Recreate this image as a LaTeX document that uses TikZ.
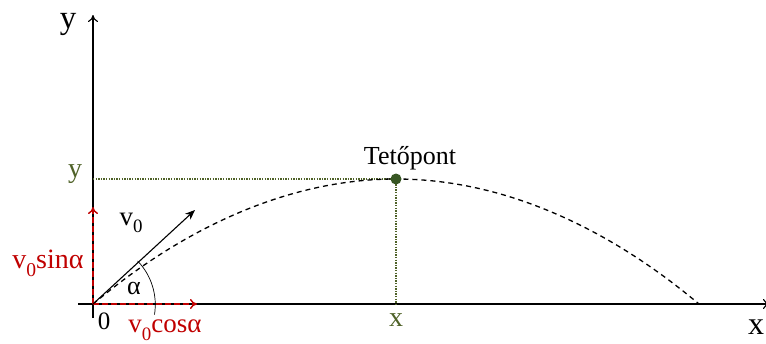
\documentclass[tikz,border=0pt]{standalone}
\usepackage{fontspec}
\setmainfont{Liberation Serif}
\usetikzlibrary{arrows.meta,calc}
\definecolor{myred}{HTML}{C00000}
\definecolor{mygreen}{HTML}{4F6228}
\definecolor{dotgreen}{HTML}{375623}
\newcommand{\subz}{\raisebox{-0.28em}{\fontsize{0.7em}{0.8em}\selectfont 0}}
\tikzset{
  axis/.style={line width=1.1pt,-{To[length=7pt,width=10pt]}},
  comp/.style={myred,line width=1.4pt,dash pattern=on 6pt off 3pt,-{To[length=7pt,width=10pt]}},
  guide/.style={mygreen,line width=1.4pt,dash pattern=on 1.3pt off 1.3pt},
  lbl/.style={inner sep=0pt,font=\fontsize{26}{30}\selectfont},
}
\begin{document}
\begin{tikzpicture}[x=1pt,y=-1pt]
\useasboundingbox (0,0) rectangle (766,343);
\coordinate (O) at (93,304);
\coordinate (xs) at (78,304);
\coordinate (xe) at (770,304);
\coordinate (ys) at (93,318);
\coordinate (ye) at (93,15);
\coordinate (top) at (396,179);
\coordinate (land) at (699,304);
\coordinate (yl) at (93,179);
\coordinate (xl) at (396,304);
\coordinate (vtip) at (195,210);
\coordinate (ctip) at (197,304);
\coordinate (stip) at (93,207);
% axes
\draw[axis] (xs) -- (xe);
\draw[axis] (ys) -- (ye);
% guides
\draw[guide] (yl) -- (top);
\draw[guide] (top) -- (xl);
% trajectory
\draw[line width=1.3pt,dash pattern=on 5pt off 4pt] (O) parabola bend (top) (land);
% components
\draw[comp] (O) -- (ctip);
\draw[comp] (O) -- (stip);
% v0
\draw[line width=1.1pt,-{Stealth[length=10pt,width=8pt]}] (O) -- (vtip);
% angle
\draw[line width=0.7pt] ($(O)+(-44:62)$) arc[start angle=-44,end angle=9,radius=63];
\fill[dotgreen] (top) circle (5.5pt);
% labels
\node[lbl,font=\fontsize{33}{38}\selectfont] (ylab) at (68,24) {y};
\node[lbl,font=\fontsize{32}{38}\selectfont] (xlab) at (756,327) {x};
\node[lbl,mygreen,font=\fontsize{28}{32}\selectfont] (yg) at (75,174) {y};
\node[lbl,mygreen,font=\fontsize{28}{32}\selectfont] (xg) at (396,320) {x};
\node[lbl] (tp) at (410,158) {Tetőpont};
\node[lbl,font=\fontsize{27}{32}\selectfont] (v0) at (131,223) {v\subz};
\node[lbl,myred,font=\fontsize{28}{32}\selectfont] (vs) at (48,263) {v\subz sinα};
\node[lbl,myred,font=\fontsize{27}{32}\selectfont] (vc) at (165,330) {v\subz cosα};
\node[lbl,font=\fontsize{26}{30}\selectfont] (al) at (134,288) {α};
\node[lbl,font=\fontsize{25}{30}\selectfont] (zero) at (104,321) {0};
\end{tikzpicture}
\end{document}
